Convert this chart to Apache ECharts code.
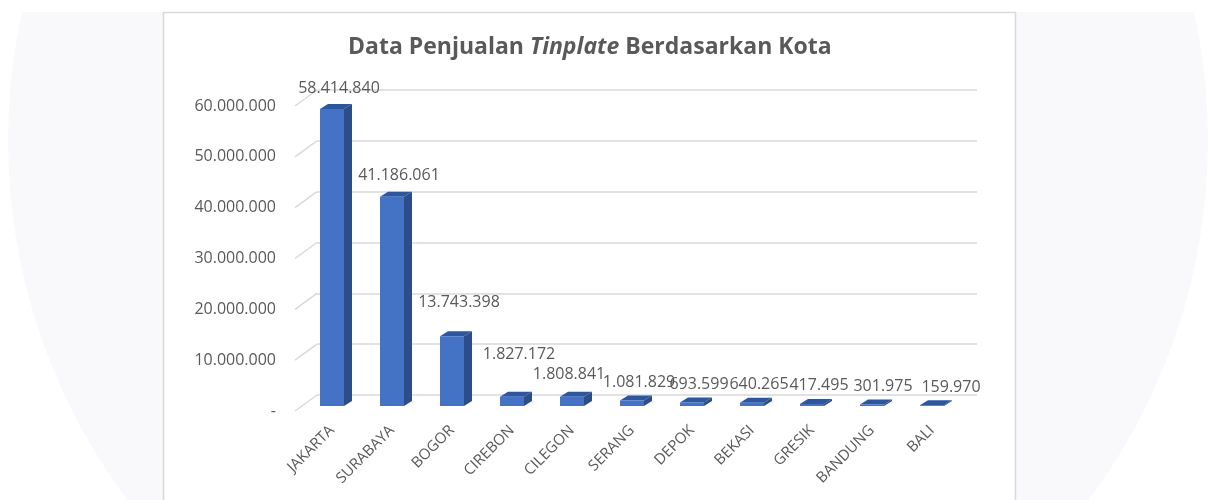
<!DOCTYPE html>
<html>
<head>
<meta charset="utf-8">
<script src="https://cdn.jsdelivr.net/npm/echarts@6/dist/echarts.min.js"></script>
<style>
  html, body { margin: 0; padding: 0; background: #ffffff; }
  #chart { width: 1208px; height: 500px; }
</style>
</head>
<body>
<div id="chart"></div>
<script>
// ---- data ----
const categories = ['JAKARTA', 'SURABAYA', 'BOGOR', 'CIREBON', 'CILEGON', 'SERANG', 'DEPOK', 'BEKASI', 'GRESIK', 'BANDUNG', 'BALI'];
const sales = [58414840, 41186061, 13743398, 1827172, 1808841, 1081829, 693599, 640265, 417495, 301975, 159970];
const yTickValues = [0, 10000000, 20000000, 30000000, 40000000, 50000000, 60000000];
const titleText = 'Data Penjualan {i|Tinplate} Berdasarkan Kota';

// ---- style ----
const TEXT = '#595959';
const FONT = '"Open Sans", "Noto Sans", sans-serif';
const labelLift = { BOGOR: 13, CIREBON: 24, CILEGON: 4 };   // extra lift of a few value labels (style only)
const labelShift = { CILEGON: -10, BANDUNG: 4, BALI: 12 };  // horizontal nudge of crowded value labels (style only)

function fmt(v) {
  if (v === 0) return '-';
  return String(Math.round(v)).replace(/\B(?=(\d{3})+(?!\d))/g, '.');
}

const yMin = yTickValues[0];
const yMax = yTickValues[yTickValues.length - 1];
const yStep = yTickValues[1] - yTickValues[0];

const chart = echarts.init(document.getElementById('chart'), null, { renderer: 'canvas' });

const gridW = 660, gridH = 305;
const option = {
  animation: false,
  textStyle: { fontFamily: FONT },
  title: {
    text: titleText,
    left: 343,
    top: 31,
    textStyle: {
      fontFamily: FONT, fontSize: 23, fontWeight: 'bold', color: TEXT,
      rich: { i: { fontFamily: FONT, fontSize: 23, fontWeight: 'bold', fontStyle: 'italic', color: TEXT } }
    }
  },
  graphic: [
    { type: 'circle', z: -100, silent: true, shape: { cx: 608, cy: 141, r: 600 }, style: { fill: '#f9f9fb' } },
    { type: 'rect', z: -99, silent: true, shape: { x: 0, y: 0, width: 1208, height: 12 }, style: { fill: '#ffffff' } },
    { type: 'rect', z: -98, silent: true, shape: { x: 163.5, y: 12.5, width: 852, height: 500 }, style: { fill: '#ffffff', stroke: '#d9d9d9', lineWidth: 1.5 } }
  ],
  grid: [
    { left: 302, top: 101, width: gridW, height: gridH },  // bar front plane
    { left: 317, top: 90, width: gridW, height: gridH },   // back wall
    { left: 295, top: 106, width: gridW, height: gridH }   // front edge (labels)
  ],
  xAxis: [
    { type: 'category', gridIndex: 0, data: categories,
      axisLine: { show: false }, axisTick: { show: false },
      axisLabel: { rotate: 45, margin: 22, fontSize: 15, color: TEXT, fontFamily: FONT, interval: 0 } },
    { type: 'category', gridIndex: 1, data: categories, show: false },
    { type: 'category', gridIndex: 2, data: categories, show: false }
  ],
  yAxis: [
    { type: 'value', gridIndex: 0, min: yMin, max: yMax, interval: yStep, show: false },
    { type: 'value', gridIndex: 1, min: yMin, max: yMax, interval: yStep,
      axisLine: { show: false }, axisTick: { show: false }, axisLabel: { show: false },
      splitLine: { show: true, lineStyle: { color: '#d9d9d9', width: 1.5 } } },
    { type: 'value', gridIndex: 2, min: yMin, max: yMax, interval: yStep,
      axisLine: { show: false }, axisTick: { show: false }, splitLine: { show: false },
      axisLabel: { margin: 19, fontSize: 16, color: TEXT, fontFamily: FONT, formatter: fmt } }
  ],
  series: [
    {
      // depth (side wall) lines of the gridlines
      type: 'custom', xAxisIndex: 1, yAxisIndex: 1, silent: true, z: 1,
      data: yTickValues.map(v => [0, v]),
      encode: { x: 0, y: 1 },
      renderItem: function (params, api) {
        const y = api.coord([0, api.value(1)])[1];
        const x0 = params.coordSys.x;
        return {
          type: 'line',
          shape: { x1: x0, y1: y, x2: x0 - 22, y2: y + 16 },
          style: { stroke: '#d9d9d9', lineWidth: 1.5 }
        };
      }
    },
    {
      type: 'custom', xAxisIndex: 0, yAxisIndex: 0, z: 3,
      data: sales.map((v, i) => [i, v]),
      encode: { x: 0, y: 1 },
      renderItem: function (params, api) {
        const idx = api.value(0);
        const val = api.value(1);
        const base = api.coord([idx, 0]);
        const top = api.coord([idx, val]);
        const cx = top[0];
        const hw = 12, dx = 8, dy = 5;
        const x1 = cx - hw, x2 = cx + hw;
        const yT = top[1], yB = base[1];
        const lift = labelLift[categories[idx]] || 0;
        const shift = labelShift[categories[idx]] || 0;
        const small = (yB - yT) < 15 ? 3 : 0;
        return {
          type: 'group',
          children: [
            { type: 'polygon', shape: { points: [[x2, yT], [x2 + dx, yT - dy], [x2 + dx, yB - dy], [x2, yB]] },
              style: { fill: '#2c4d87' } },
            { type: 'polygon', shape: { points: [[x1, yT], [x1 + dx, yT - dy], [x2 + dx, yT - dy], [x2, yT]] },
              style: { fill: '#2f559a' } },
            { type: 'rect', shape: { x: x1, y: yT, width: hw * 2, height: Math.max(yB - yT, 0) },
              style: { fill: '#4472c4' } },
            { type: 'text', z2: 10,
              style: { text: fmt(val), x: cx + 7 + shift, y: yT - 21 - lift + small, align: 'center', verticalAlign: 'middle',
                       fontSize: 16, fontFamily: FONT, fill: TEXT } }
          ]
        };
      }
    }
  ]
};
chart.setOption(option);
</script>
</body>
</html>
